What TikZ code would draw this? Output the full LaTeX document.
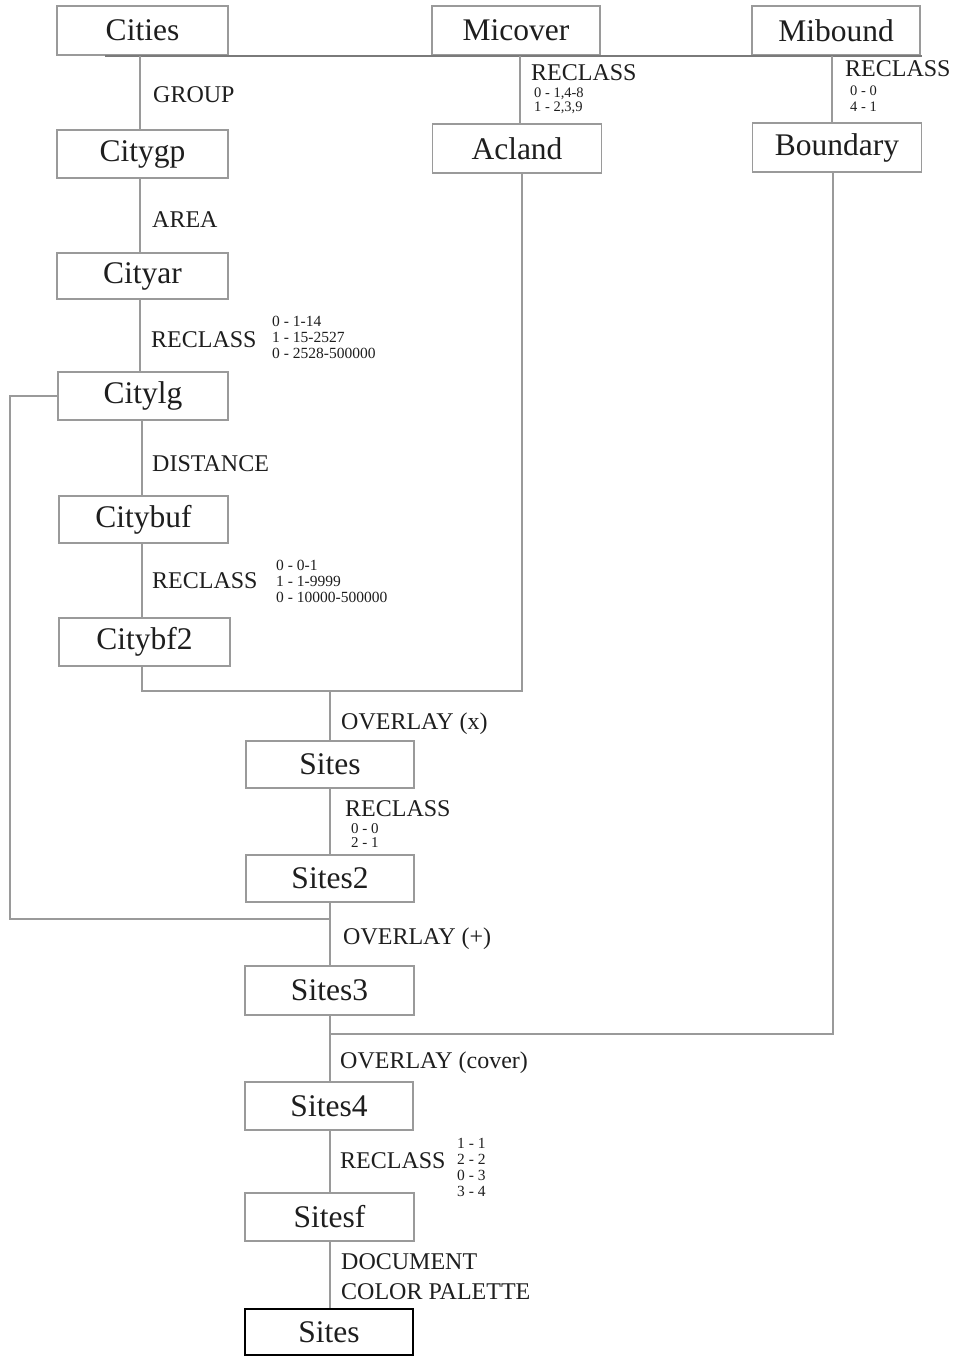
\documentclass[tikz,border=0pt]{standalone}
\usepackage{fontspec}
\setmainfont{Liberation Serif}
\definecolor{ink}{HTML}{1E1E1E}
\definecolor{linegray}{HTML}{9A9A9A}
\definecolor{bargray}{HTML}{7A7A7A}
\begin{document}
\begin{tikzpicture}[x=1pt,y=-1pt,
  box/.style={draw=linegray, line width=1.5pt, inner sep=0pt, text=ink,
    font=\fontsize{31.5}{34}\selectfont, minimum width=169pt, minimum height=48pt},
  finalbox/.style={box, draw=black, line width=2.6pt},
  conn/.style={draw=linegray, line width=1.4pt},
  bar/.style={draw=bargray, line width=2.8pt},
  lbl/.style={anchor=base west, inner sep=0pt, text=ink, font=\fontsize{24}{26}\selectfont},
  nums/.style={anchor=north west, inner sep=0pt, text=ink, align=left},
]
\useasboundingbox (0,0) rectangle (954,1356);
\fill[white] (0,0) rectangle (954,1356);

% boxes
\node[box, minimum width=171pt, minimum height=49pt] (cities) at (142.5,30.5) {Cities};
\node[box, minimum width=168pt, minimum height=49pt] (micover) at (516,30.5) {Micover};
\node[box, minimum width=168pt, minimum height=49pt] (mibound) at (836,30.5) {Mibound};
\node[box, minimum width=171pt] (citygp) at (142.5,154) {Citygp};
\node[box, minimum width=169pt, minimum height=49pt] (acland) at (517,148.5) {Acland};
\node[box, minimum width=169pt, minimum height=49pt] (boundary) at (837,147.5) {Boundary};
\node[box, minimum width=171pt, minimum height=46pt] (cityar) at (142.5,276) {Cityar};
\node[box, minimum width=170pt] (citylg) at (143,396) {Citylg};
\node[box, minimum width=169pt, minimum height=47pt] (citybuf) at (143.5,519.5) {Citybuf};
\node[box, minimum width=171pt] (citybf2) at (144.5,642) {Citybf2};
\node[box, minimum width=168pt, minimum height=47pt] (sites) at (330,764.5) {Sites};
\node[box, minimum width=168pt, minimum height=47pt] (sites2) at (330,878.5) {Sites2};
\node[box, minimum width=169pt, minimum height=49pt] (sites3) at (329.5,990.5) {Sites3};
\node[box, minimum width=168pt] (sites4) at (329,1106) {Sites4};
\node[box, minimum width=169pt] (sitesf) at (329.5,1217) {Sitesf};
\node[finalbox, minimum width=168pt, minimum height=46pt] (sitesfinal) at (329,1332) {Sites};

% helper coordinates
\coordinate (barL) at (105,56);
\coordinate (barR) at (922,56);
\coordinate (j1) at (330,691);
\coordinate (lcorner) at (10,919);
\coordinate (j2) at (330,919);
\coordinate (j3) at (330,1034);

% connectors
\draw[bar] (barL) -- (barR);
\draw[conn] ([xshift=-2.5pt]cities.south) -- ([xshift=-2.5pt]citygp.north);
\draw[conn] ([xshift=-2.5pt]citygp.south) -- ([xshift=-2.5pt]cityar.north);
\draw[conn] ([xshift=-2.5pt]cityar.south) -- ([xshift=-3pt]citylg.north);
\draw[conn] ([xshift=-1pt]citylg.south) -- ([xshift=-1.5pt]citybuf.north);
\draw[conn] ([xshift=-1.5pt]citybuf.south) -- ([xshift=-2.5pt]citybf2.north);
\draw[conn] ([xshift=4pt]micover.south) -- ([xshift=3pt]acland.north);
\draw[conn] ([xshift=-4pt]mibound.south) -- ([xshift=-5pt]boundary.north);
\draw[conn] ([xshift=-2.5pt]citybf2.south) |- (j1) -| ([xshift=5pt]acland.south);
\draw[conn] (j1) -- (sites.north);
\draw[conn] (sites.south) -- (sites2.north);
\draw[conn] (citylg.west) -| (lcorner) -- (j2);
\draw[conn] (sites2.south) -- ([xshift=0.5pt]sites3.north);
\draw[conn] ([xshift=-4pt]boundary.south) |- (j3);
\draw[conn] ([xshift=0.5pt]sites3.south) -- ([xshift=1pt]sites4.north);
\draw[conn] ([xshift=1pt]sites4.south) -- ([xshift=0.5pt]sitesf.north);
\draw[conn] ([xshift=0.5pt]sitesf.south) -- ([xshift=1pt]sitesfinal.north);

% labels
\node[lbl] (lgroup) at (153,103) {GROUP};
\node[lbl] (larea) at (152,228) {AREA};
\node[lbl] (lrec1) at (151,347) {RECLASS};
\node[nums, font=\fontsize{15.5}{16}\selectfont] (nrec1) at (272,316) {0 - 1-14\\1 - 15-2527\\0 - 2528-500000};
\node[lbl] (ldist) at (152,471) {DISTANCE};
\node[lbl] (lrec2) at (152,588) {RECLASS};
\node[nums, font=\fontsize{15.5}{16}\selectfont] (nrec2) at (276,560) {0 - 0-1\\1 - 1-9999\\0 - 10000-500000};
\node[lbl] (lrec3) at (531,81) {RECLASS};
\node[nums, font=\fontsize{14.5}{14}\selectfont] (nrec3) at (534,88) {0 - 1,4-8\\1 - 2,3,9};
\node[lbl] (lrec4) at (845,77) {RECLASS};
\node[nums, font=\fontsize{14.5}{16}\selectfont] (nrec4) at (850,86) {0 - 0\\4 - 1};
\node[lbl] (lov1) at (341,729) {OVERLAY (x)};
\node[lbl] (lrec5) at (345,816) {RECLASS};
\node[nums, font=\fontsize{15}{14.5}\selectfont] (nrec5) at (351,823) {0 - 0\\2 - 1};
\node[lbl] (lov2) at (343,944) {OVERLAY (+)};
\node[lbl] (lov3) at (340,1068) {OVERLAY (cover)};
\node[lbl] (lrec6) at (340,1168) {RECLASS};
\node[nums, font=\fontsize{15.5}{16}\selectfont] (nrec6) at (457,1138) {1 - 1\\2 - 2\\0 - 3\\3 - 4};
\node[lbl] (ldoc) at (341,1269) {DOCUMENT};
\node[lbl] (lpal) at (341,1299) {COLOR PALETTE};
\end{tikzpicture}
\end{document}
